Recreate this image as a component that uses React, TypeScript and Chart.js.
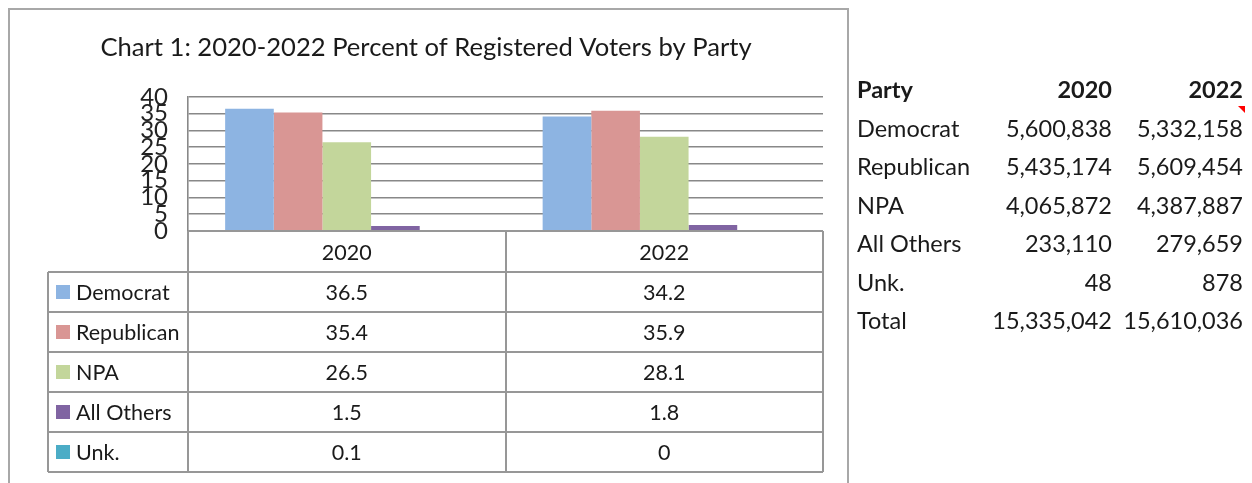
import React, { useEffect, useRef } from "react";
import { Chart, registerables } from "chart.js";

Chart.register(...registerables);

// ---- data ----
const chartTitle = "Chart 1: 2020-2022 Percent of Registered Voters by Party";
const years = ["2020", "2022"];
const parties = ["Democrat", "Republican", "NPA", "All Others", "Unk."];
const democratPct = [36.5, 34.2];
const republicanPct = [35.4, 35.9];
const npaPct = [26.5, 28.1];
const allOthersPct = [1.5, 1.8];
const unkPct = [0.1, 0];
const partyColors = ["#8DB4E2", "#D99694", "#C3D69B", "#8064A2", "#4BACC6"];
const yMin = 0;
const yMax = 40;
const yStep = 5;

const countHeader = ["Party", "2020", "2022"];
const countRows = ["Democrat", "Republican", "NPA", "All Others", "Unk.", "Total"];
const counts2020 = [5600838, 5435174, 4065872, 233110, 48, 15335042];
const counts2022 = [5332158, 5609454, 4387887, 279659, 878, 15610036];

const seriesValues = [democratPct, republicanPct, npaPct, allOthersPct, unkPct];

const FONT = "Lato, 'Open Sans', sans-serif";
const TEXT = "#1a1a1a";
const LINE = "#979797";

const tablePlugin = {
  id: "frameAndTable",
  beforeDraw(chart: any) {
    const ctx = chart.ctx;
    ctx.save();
    ctx.fillStyle = "#ffffff";
    ctx.fillRect(0, 0, chart.width, chart.height);
    ctx.strokeStyle = "#a8a8a8";
    ctx.lineWidth = 2;
    ctx.strokeRect(9, 9, 839, 520);
    ctx.restore();
  },
  afterDraw(chart: any) {
    const ctx = chart.ctx;
    const area = chart.chartArea;
    const xs = chart.scales.x;
    ctx.save();
    // title
    ctx.fillStyle = TEXT;
    ctx.font = `25.6px ${FONT}`;
    ctx.textAlign = "center";
    ctx.textBaseline = "alphabetic";
    ctx.fillText(chartTitle, 426, 56);

    // data table
    const left = 48;
    const headerH = 41;
    const rowH = 40;
    const top = area.bottom;
    const bottom = top + headerH + rowH * parties.length;
    const mid = (area.left + area.right) / 2;
    ctx.strokeStyle = LINE;
    ctx.lineWidth = 2;
    ctx.beginPath();
    ctx.moveTo(area.left, top);
    ctx.lineTo(area.right, top);
    for (let i = 0; i <= parties.length; i++) {
      const y = Math.round(top + headerH + rowH * i);
      ctx.moveTo(left, y);
      ctx.lineTo(area.right, y);
    }
    ctx.moveTo(left, top + headerH);
    ctx.lineTo(left, bottom);
    ctx.moveTo(Math.round(area.left), top);
    ctx.lineTo(Math.round(area.left), bottom);
    ctx.moveTo(Math.round(mid), top);
    ctx.lineTo(Math.round(mid), bottom);
    ctx.moveTo(Math.round(area.right), top);
    ctx.lineTo(Math.round(area.right), bottom);
    ctx.stroke();

    ctx.fillStyle = TEXT;
    ctx.font = `21.5px ${FONT}`;
    ctx.textAlign = "center";
    years.forEach((yr, j) => {
      ctx.fillText(yr, xs.getPixelForValue(j), top + headerH / 2 + 8);
    });
    parties.forEach((p, i) => {
      const cy = top + headerH + rowH * i + rowH / 2;
      ctx.fillStyle = partyColors[i];
      ctx.fillRect(56, cy - 7, 14, 14);
      ctx.fillStyle = TEXT;
      ctx.textAlign = "left";
      ctx.fillText(p, 76, cy + 8);
      ctx.textAlign = "center";
      seriesValues[i].forEach((v, j) => {
        ctx.fillText(String(v), xs.getPixelForValue(j), cy + 8);
      });
    });
    ctx.restore();
  },
};

function fmt(n: number) {
  return n.toLocaleString("en-US");
}

export default function App() {
  const ref = useRef<HTMLCanvasElement | null>(null);
  useEffect(() => {
    if (!ref.current) return;
    const chart = new Chart(ref.current, {
      type: "bar",
      data: {
        labels: years,
        datasets: parties.map((p, i) => ({
          label: p,
          data: seriesValues[i],
          backgroundColor: partyColors[i],
          borderWidth: 0,
          categoryPercentage: 0.766,
          barPercentage: 1,
        })),
      },
      options: {
        responsive: false,
        animation: false,
        events: [],
        layout: { padding: { left: 128, right: 429, top: 97, bottom: 252 } },
        plugins: {
          legend: { display: false },
          tooltip: { enabled: false },
          title: { display: false },
        },
        scales: {
          x: { display: false },
          y: {
            min: yMin,
            max: yMax,
            ticks: {
              stepSize: yStep,
              autoSkip: false,
              padding: 20,
              color: "#222222",
              font: { family: FONT, size: 24 },
            },
            grid: { color: "#888888", lineWidth: 1.6, drawTicks: false },
            border: { display: true, color: "#888888", width: 1.6 },
            afterFit: (s: any) => {
              s.width = 60;
            },
          },
        },
      } as any,
      plugins: [tablePlugin],
    });
    return () => chart.destroy();
  }, []);

  const rowTop = (i: number) => 89 + i * 38.5 - 19;
  const cell: React.CSSProperties = {
    position: "absolute",
    height: 38,
    lineHeight: "38px",
    fontFamily: FONT,
    fontSize: 23.5,
    color: TEXT,
    whiteSpace: "nowrap",
  };

  return (
    <div style={{ position: "absolute", left: 0, top: 0, width: 1252, height: 483, overflow: "hidden", background: "#fff" }}>
      <canvas ref={ref} width={1252} height={483} style={{ display: "block", position: "absolute", left: 0, top: 0 }} />
      <div style={{ ...cell, top: rowTop(0), left: 857, fontWeight: 700 }}>{countHeader[0]}</div>
      <div style={{ ...cell, top: rowTop(0), left: 990, width: 122, textAlign: "right", fontWeight: 700 }}>{countHeader[1]}</div>
      <div style={{ ...cell, top: rowTop(0), left: 1120, width: 123, textAlign: "right", fontWeight: 700 }}>{countHeader[2]}</div>
      {countRows.map((r, i) => (
        <React.Fragment key={r}>
          <div style={{ ...cell, top: rowTop(i + 1), left: 857 }}>{r}</div>
          <div style={{ ...cell, top: rowTop(i + 1), left: 960, width: 152, textAlign: "right" }}>{fmt(counts2020[i])}</div>
          <div style={{ ...cell, top: rowTop(i + 1), left: 1100, width: 143, textAlign: "right" }}>{fmt(counts2022[i])}</div>
        </React.Fragment>
      ))}
      <div
        style={{
          position: "absolute",
          left: 1238,
          top: 106,
          width: 7,
          height: 7,
          background: "#ff0000",
          clipPath: "polygon(0 0, 100% 0, 100% 100%)",
        }}
      />
    </div>
  );
}
